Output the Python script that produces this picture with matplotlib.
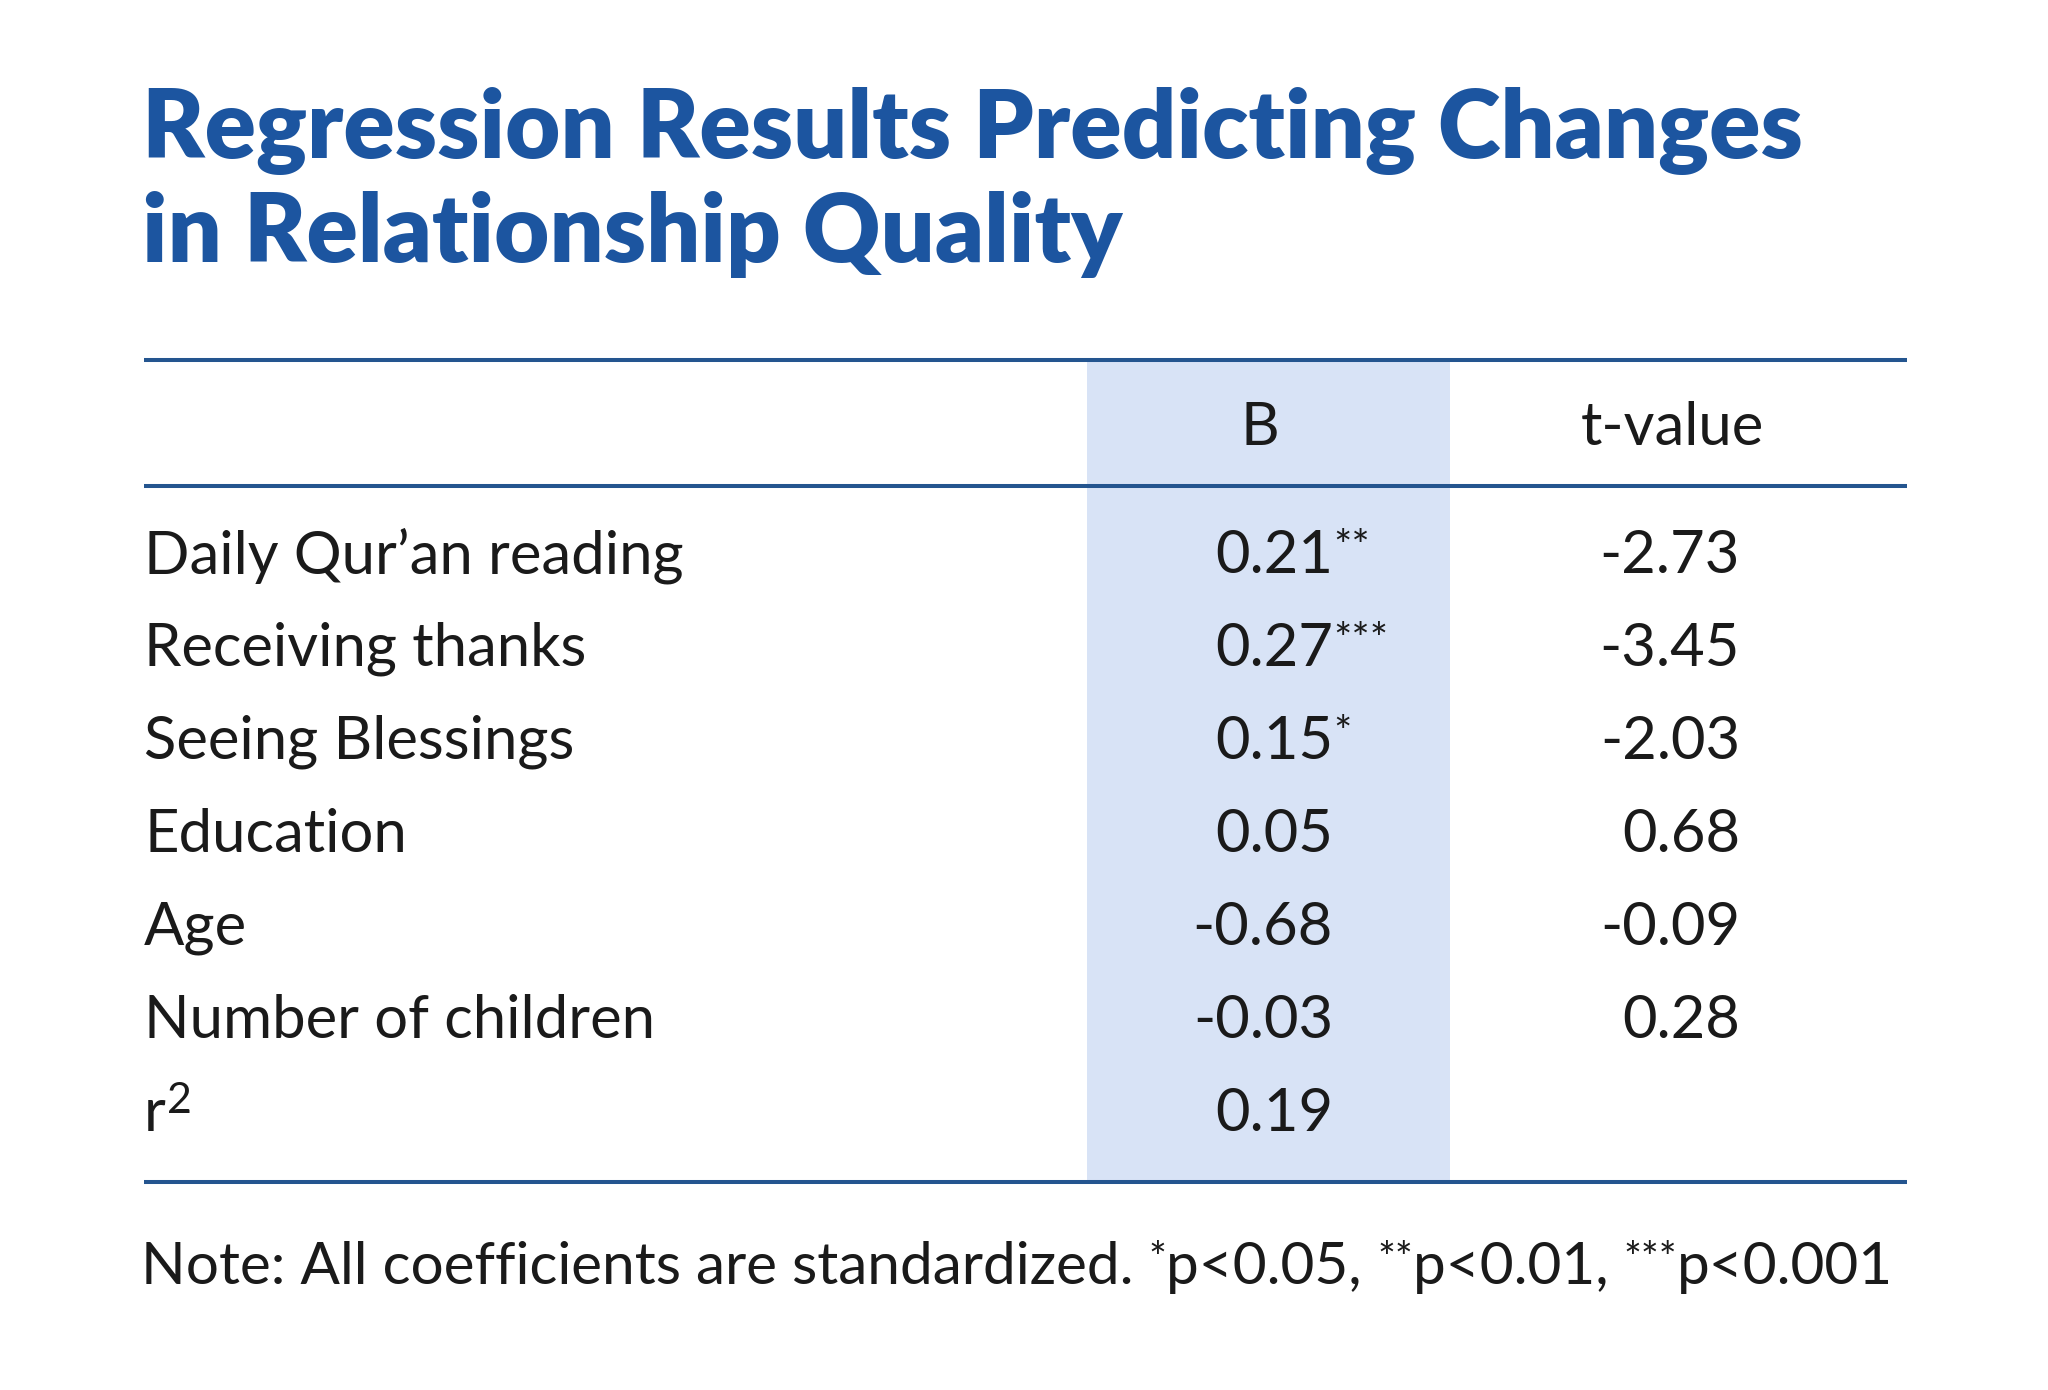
import matplotlib
matplotlib.use("Agg")
import matplotlib.pyplot as plt
from matplotlib.patches import Rectangle

# ---- data ----
title_lines = ["Regression Results Predicting Changes", "in Relationship Quality"]
col_headers = ["B", "t-value"]
row_labels = ["Daily Qur\u2019an reading", "Receiving thanks", "Seeing Blessings",
              "Education", "Age", "Number of children", "r"]
b_values = ["0.21", "0.27", "0.15", "0.05", "-0.68", "-0.03", "0.19"]
b_stars = ["**", "***", "*", "", "", "", ""]
t_values = ["-2.73", "-3.45", "-2.03", "0.68", "-0.09", "0.28", ""]
note_parts = ["Note: All coefficients are standardized. ", "*", "p<0.05, ", "**", "p<0.01, ", "***", "p<0.001"]

# ---- style ----
W, H = 2048, 1390
TITLE_C = "#1c55a0"
RULE_C = "#24558f"
SHADE_C = "#d8e3f6"
TEXT_C = "#1a1a1a"
BODY_FONT = "Lato"

fig = plt.figure(figsize=(W / 100, H / 100), dpi=100)
ax = fig.add_axes([0, 0, 1, 1])
ax.set_xlim(0, W)
ax.set_ylim(H, 0)
ax.axis("off")
fig.patch.set_facecolor("white")
renderer = fig.canvas.get_renderer()


def fit_size(text, target_w, base=40, **kw):
    t = ax.text(0, 0, text, fontsize=base, **kw)
    w = t.get_window_extent(renderer).width
    t.remove()
    return base * target_w / w


# title
title_fs = fit_size(title_lines[0], 1661, family=BODY_FONT, weight="heavy")
for i, line in enumerate(title_lines):
    ax.text(142, 131 + i * 104, line, fontsize=title_fs, family=BODY_FONT,
            weight="heavy", color=TITLE_C, va="center", ha="left")

# table geometry
left, right = 144, 1907
top_rule, head_rule, bot_rule = 360, 486, 1182
shade_x0, shade_x1 = 1087, 1450
b_x, t_x = 1333, 1740
row_y0, row_dy = 556, 93

ax.add_patch(Rectangle((shade_x0, top_rule), shade_x1 - shade_x0, bot_rule - top_rule,
                       facecolor=SHADE_C, edgecolor="none", zorder=0))
for y in (top_rule, head_rule, bot_rule):
    ax.plot([left, right], [y, y], color=RULE_C, lw=2.9, solid_capstyle="butt", zorder=2)

body_fs = fit_size(row_labels[0], 538, family=BODY_FONT)
star_fs = body_fs * 0.72

ax.text(1260, 428, col_headers[0], fontsize=body_fs, family=BODY_FONT, color=TEXT_C,
        ha="center", va="center")
ax.text(1672, 428, col_headers[1], fontsize=body_fs, family=BODY_FONT, color=TEXT_C,
        ha="center", va="center")

for i, (lab, bv, st, tv) in enumerate(zip(row_labels, b_values, b_stars, t_values)):
    y = row_y0 + i * row_dy
    t = ax.text(left, y, lab, fontsize=body_fs, family=BODY_FONT, color=TEXT_C,
                ha="left", va="center")
    if lab == "r":
        bb = t.get_window_extent(renderer)
        ax.text(left + bb.width + 1, y - 13, "2", fontsize=star_fs, family=BODY_FONT,
                color=TEXT_C, ha="left", va="center")
    ax.text(b_x, y, bv, fontsize=body_fs, family=BODY_FONT, color=TEXT_C,
            ha="right", va="center")
    if st:
        ax.text(b_x, y - 8, st, fontsize=star_fs, family=BODY_FONT, color=TEXT_C,
                ha="left", va="center")
    if tv:
        ax.text(t_x, y, tv, fontsize=body_fs, family=BODY_FONT, color=TEXT_C,
                ha="right", va="center")

# note with superscript stars
x = 141
note_y = 1268
parts_sizes = []
for p in note_parts:
    is_star = p.strip("*") == ""
    parts_sizes.append(star_fs if is_star else body_fs)
total = 0
for p, fs in zip(note_parts, parts_sizes):
    tt = ax.text(0, 0, p, fontsize=fs, family=BODY_FONT)
    total += tt.get_window_extent(renderer).width
    tt.remove()
scale = 1757 / total
for p, fs in zip(note_parts, parts_sizes):
    is_star = p.strip("*") == ""
    fs2 = fs * scale
    tt = ax.text(x, note_y - (8 if is_star else 0), p, fontsize=fs2, family=BODY_FONT,
                 color=TEXT_C, ha="left", va="center")
    x += tt.get_window_extent(renderer).width

fig.savefig("out.png", dpi=100, facecolor="white")
